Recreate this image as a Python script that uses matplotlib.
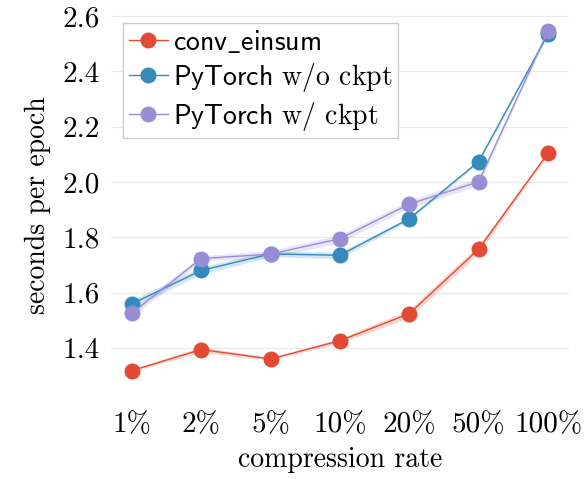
import matplotlib
matplotlib.use("Agg")
import matplotlib.pyplot as plt
from matplotlib.ticker import FormatStrFormatter
import numpy as np

plt.rcParams["font.family"] = "cmr10"
plt.rcParams["mathtext.fontset"] = "cm"
plt.rcParams["axes.unicode_minus"] = False
plt.rcParams["axes.formatter.use_mathtext"] = True

rates = ["1%", "2%", "5%", "10%", "20%", "50%", "100%"]

conv_einsum = [1.318, 1.394, 1.360, 1.426, 1.524, 1.757, 2.104]
conv_einsum_err = [0.004, 0.010, 0.005, 0.008, 0.015, 0.015, 0.006]

torch_no_ckpt = [1.559, 1.680, 1.740, 1.735, 1.867, 2.074, 2.535]
torch_no_ckpt_err = [0.014, 0.014, 0.010, 0.012, 0.006, 0.006, 0.006]

torch_ckpt = [1.525, 1.723, 1.739, 1.795, 1.920, 2.001, 2.546]
torch_ckpt_err = [0.014, 0.010, 0.014, 0.014, 0.014, 0.014, 0.006]

series = [
    (conv_einsum, conv_einsum_err, "#E24A33", r"$\mathsf{conv\_einsum}$"),
    (torch_no_ckpt, torch_no_ckpt_err, "#348ABD", r"$\mathsf{PyTorch}$ w/o ckpt"),
    (torch_ckpt, torch_ckpt_err, "#988ED5", r"$\mathsf{PyTorch}$ w/ ckpt"),
]

fig = plt.figure(figsize=(5.87, 4.79), dpi=100)
ax = fig.add_axes([0.189, 0.164, 0.78, 0.814])

x = np.arange(len(rates))
for vals, err, color, label in series:
    vals = np.array(vals)
    err = np.array(err)
    ax.fill_between(x, vals - err, vals + err, color=color, alpha=0.22, lw=0)
    ax.plot(x, vals, "-o", color=color, lw=1, markersize=11.5,
            markeredgewidth=0, label=label)

ax.set_xticks(x)
ax.set_xticklabels(rates)
ax.set_xlim(-0.3, 6.3)
ax.set_ylim(1.21, 2.62)
ax.set_yticks([1.4, 1.6, 1.8, 2.0, 2.2, 2.4, 2.6])
ax.yaxis.set_major_formatter(FormatStrFormatter("%.1f"))
ax.tick_params(length=0, labelsize=21, pad=8)
ax.grid(axis="y", color="#ebebeb", lw=1)
ax.set_axisbelow(True)
for s in ax.spines.values():
    s.set_visible(False)

ax.set_xlabel("compression rate", fontsize=20, labelpad=6)
ax.set_ylabel("seconds per epoch", fontsize=20, labelpad=8)

leg = ax.legend(loc="upper left", fontsize=20, frameon=True, fancybox=False,
                edgecolor="#cccccc", framealpha=1, handlelength=1.4,
                borderpad=0.2, labelspacing=0.2, handletextpad=0.2,
                borderaxespad=0.45)

fig.savefig("out.png", dpi=100)
